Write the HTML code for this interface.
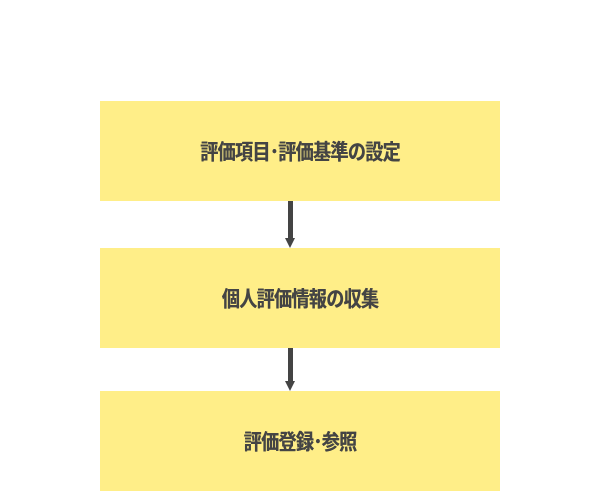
<!DOCTYPE html>
<html><head><meta charset="utf-8"><style>
body{margin:0;width:600px;height:500px;background:#fff;position:relative;overflow:hidden;font-family:"Liberation Sans","Noto Sans CJK JP",sans-serif}
.b{position:absolute;left:100px;width:400px;height:100px;background:#ffee88;display:flex;align-items:center;justify-content:center;font-weight:bold;font-size:18px;color:#444;letter-spacing:-0.6px}
.b span{display:inline-block;transform:scaleY(1.2);text-shadow:0.4px 0 0 #444}
.l{position:absolute;left:288px;width:5px;background:#444}
.a{position:absolute;left:285px;width:0;height:0;border-left:5.5px solid transparent;border-right:5.5px solid transparent;border-top:10px solid #444}
</style></head><body>
<div class="b" style="top:101px;height:100px"><span>評価項目･評価基準の設定</span></div>
<div class="l" style="top:201px;height:38px"></div><div class="a" style="top:238px"></div>
<div class="b" style="top:248px"><span>個人評価情報の収集</span></div>
<div class="l" style="top:348px;height:34px"></div><div class="a" style="top:381px"></div>
<div class="b" style="top:391px"><span>評価登録･参照</span></div>
</body></html>
